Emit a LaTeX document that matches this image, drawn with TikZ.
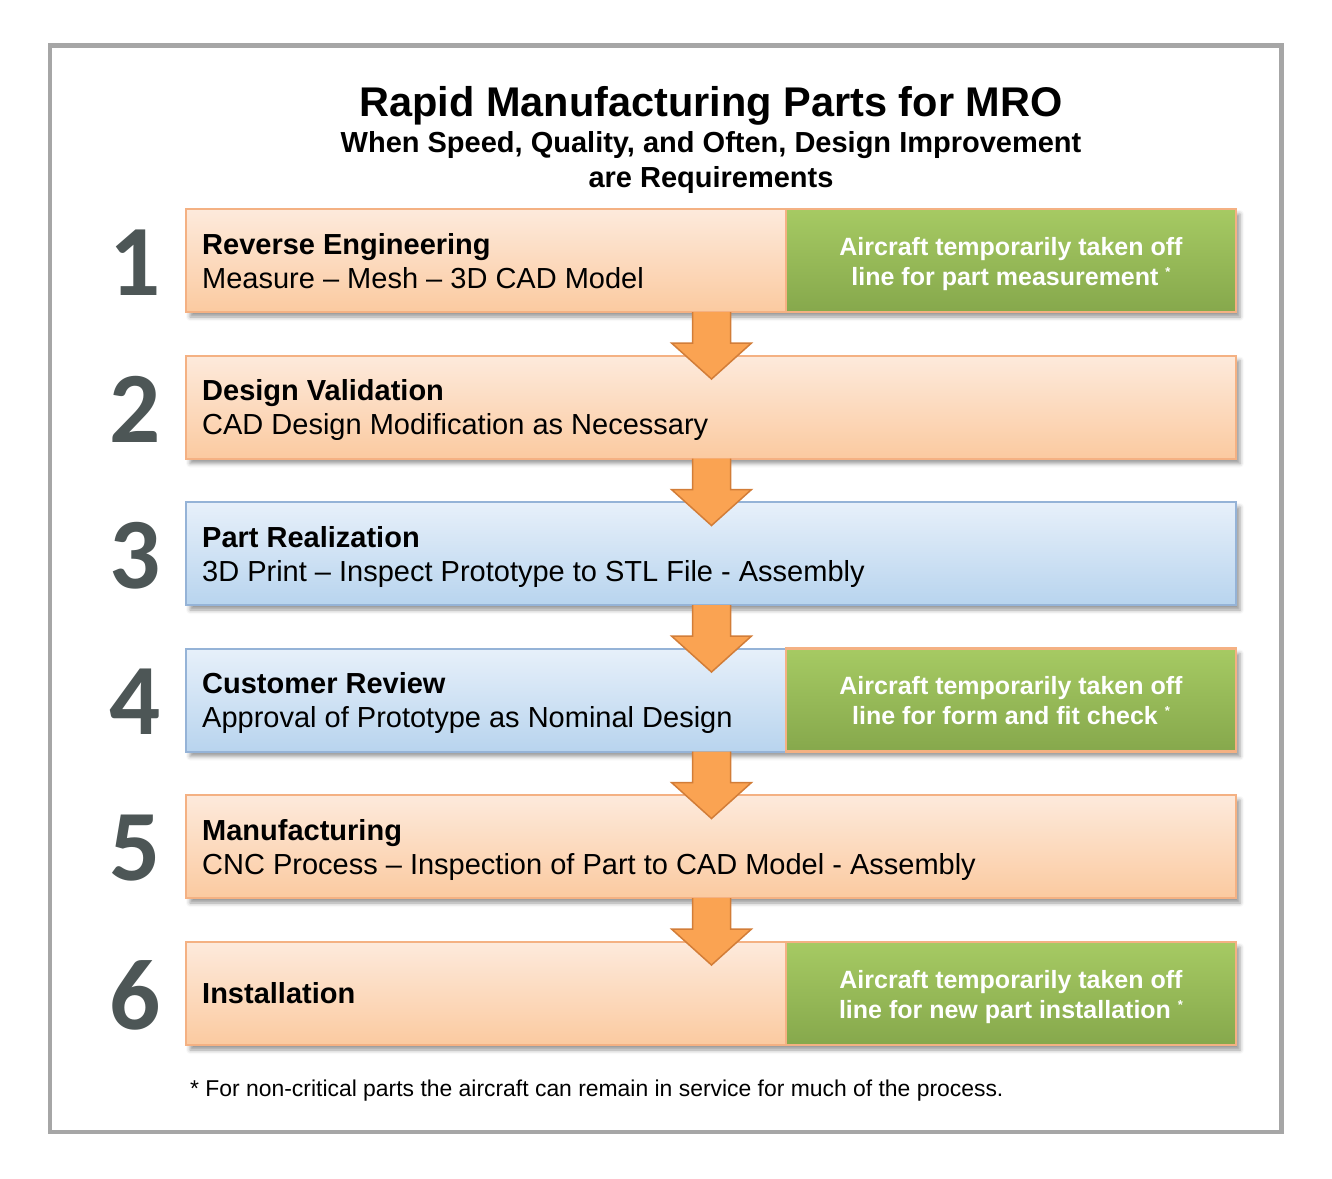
\documentclass[tikz,border=0pt]{standalone}
\usepackage{fontspec}
\setmainfont{Liberation Sans}
\newfontfamily\numfont{Carlito}
\usetikzlibrary{shadows.blur,calc}
\definecolor{framecol}{HTML}{A6A6A6}
\definecolor{otop}{HTML}{FDEADC}
\definecolor{obot}{HTML}{FBCAA0}
\definecolor{obord}{HTML}{F4B183}
\definecolor{btop}{HTML}{E7F0FA}
\definecolor{bbot}{HTML}{B8D4EE}
\definecolor{bbord}{HTML}{95B3D7}
\definecolor{gtop}{HTML}{A6CA63}
\definecolor{gbot}{HTML}{86A84C}
\definecolor{numcol}{HTML}{4D5656}
\definecolor{arfill}{HTML}{FAA352}
\definecolor{arbord}{HTML}{D27D38}
\newcommand\myfs[2]{\fontsize{#1}{#2}\selectfont}
\newcommand\supast{ \raisebox{9pt}{\myfs{13}{13}*}}
\begin{document}
\begin{tikzpicture}[x=1pt,y=-1pt,
  boxbase/.style={anchor=north west, minimum width=1050pt, minimum height=103pt,
    inner sep=0pt, outer sep=0pt, line width=2pt,
    blur shadow={shadow xshift=4pt, shadow yshift=-5pt, shadow blur radius=4pt, shadow opacity=40}},
  orangebox/.style={boxbase, draw=obord, top color=otop, bottom color=obot},
  bluebox/.style={boxbase, draw=bbord, top color=btop, bottom color=bbot},
  greenbox/.style={anchor=north west, minimum width=450pt, minimum height=103pt,
    inner sep=0pt, outer sep=0pt, line width=2.5pt, draw=obord, top color=gtop, bottom color=gbot},
  greentext/.style={anchor=base, inner sep=0pt, text=white, align=center, font=\myfs{25}{30}\bfseries},
  steptitle/.style={anchor=base west, inner sep=0pt, font=\myfs{29}{34}\bfseries},
  stepsub/.style={anchor=base west, inner sep=0pt, font=\myfs{29}{34}},
  stepnum/.style={inner sep=0pt, text=numcol, font=\numfont\bfseries\myfs{101}{101}},
  blockarrow/.style={draw=arbord, fill=arfill, line width=1.5pt, line join=miter},
  heading/.style={anchor=base, inner sep=0pt},
]
\useasboundingbox (0,0) rectangle (1332,1178);
\draw[framecol, line width=4.5pt] (50,45.5) rectangle (1281.5,1132);

% headings
\node[heading, font=\myfs{41.5}{50}\bfseries] (title) at (711,116) {Rapid Manufacturing Parts for MRO};
\node[heading, font=\myfs{29}{35}\bfseries] (sub1) at (711,152.5) {When Speed, Quality, and Often, Design Improvement};
\node[heading, font=\myfs{29}{35}\bfseries] (sub2) at (711,187.5) {are Requirements};

% boxes
\node[orangebox] (s1) at (186,209) {};
\node[greenbox] (g1) at (786,209) {};
\node[orangebox] (s2) at (186,355.5) {};
\node[bluebox] (s3) at (186,502) {};
\node[bluebox] (s4) at (186,648.5) {};
\node[greenbox] (g4) at (786,648.5) {};
\node[orangebox] (s5) at (186,795) {};
\node[orangebox] (s6) at (186,942) {};
\node[greenbox] (g6) at (786,942) {};

% numbers
\foreach \i in {1,...,6}{
  \node[stepnum] (n\i) at ($(s\i.west)+(-50.5,2)$) {\i};
}

% step texts
\node[steptitle] (t1) at ($(s1.north west)+(16,45)$) {Reverse Engineering};
\node[stepsub] (u1) at ($(s1.north west)+(16,79)$) {Measure – Mesh – 3D CAD Model};
\node[steptitle] (t2) at ($(s2.north west)+(16,45)$) {Design Validation};
\node[stepsub] (u2) at ($(s2.north west)+(16,79)$) {CAD Design Modification as Necessary};
\node[steptitle] (t3) at ($(s3.north west)+(16,45)$) {Part Realization};
\node[stepsub] (u3) at ($(s3.north west)+(16,79)$) {3D Print – Inspect Prototype to STL File - Assembly};
\node[steptitle] (t4) at ($(s4.north west)+(16,45)$) {Customer Review};
\node[stepsub] (u4) at ($(s4.north west)+(16,79)$) {Approval of Prototype as Nominal Design};
\node[steptitle] (t5) at ($(s5.north west)+(16,45)$) {Manufacturing};
\node[stepsub] (u5) at ($(s5.north west)+(16,79)$) {CNC Process – Inspection of Part to CAD Model - Assembly};
\node[steptitle] (t6) at ($(s6.north west)+(16,61.5)$) {Installation};

% green texts (base = baseline of last line)
\node[greentext] (gt1) at ($(g1.north)+(0,76)$) {Aircraft temporarily taken off\\line for part measurement\supast};
\node[greentext] (gt4) at ($(g4.north)+(0,76)$) {Aircraft temporarily taken off\\line for form and fit check\supast};
\node[greentext] (gt6) at ($(g6.north)+(0,76)$) {Aircraft temporarily taken off\\line for new part installation\supast};

% block arrows
\foreach \a in {1,...,5}{
  \draw[blockarrow] ($(s\a.south)+(-18.5,0)$) -- ++(0,31) -- ++(-21,0) -- ++(40,36)
     -- ++(40,-36) -- ++(-21,0) -- ++(0,-31);
}

% footnote
\node[anchor=base west, inner sep=0pt, font=\myfs{22.9}{27}] (foot) at (190,1096)
  {* For non-critical parts the aircraft can remain in service for much of the process.};
\end{tikzpicture}
\end{document}
